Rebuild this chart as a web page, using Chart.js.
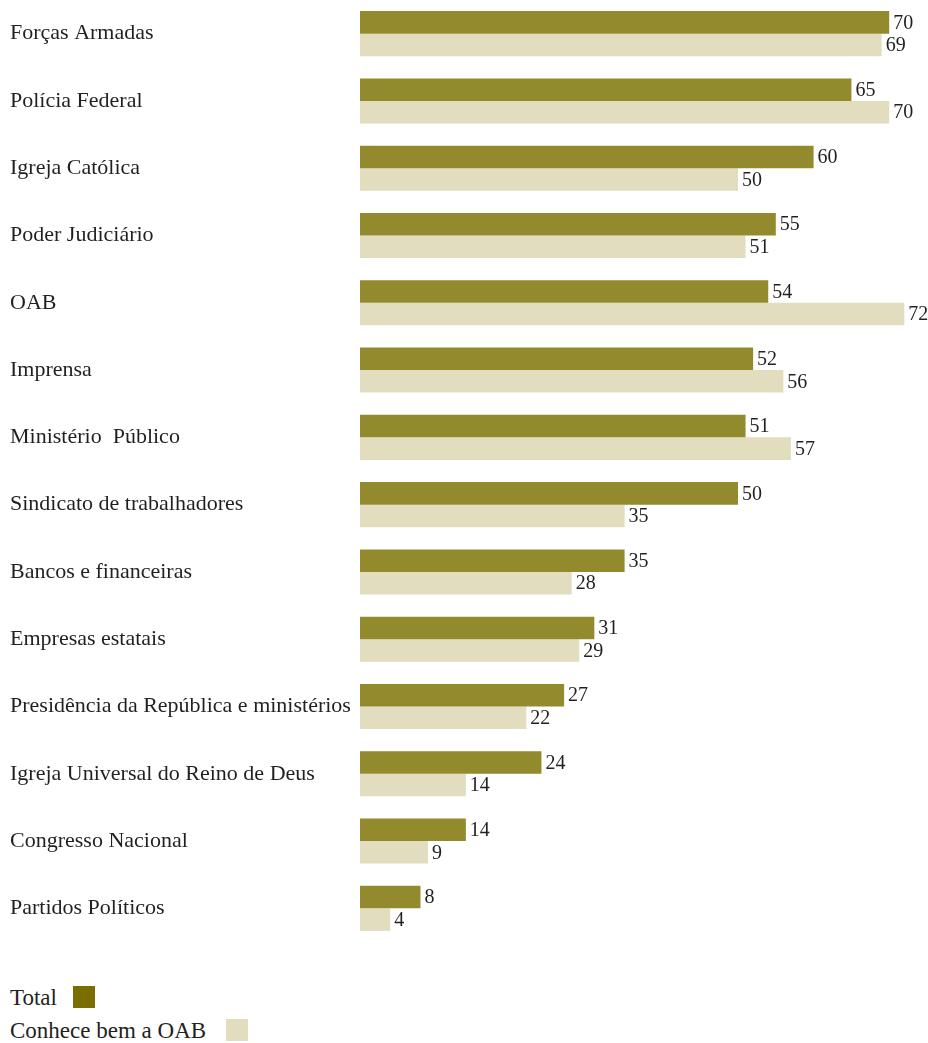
<!DOCTYPE html>
<html>
<head>
<meta charset="utf-8">
<script src="https://cdn.jsdelivr.net/npm/chart.js@4.4.1/dist/chart.umd.min.js"></script>
<style>
  html, body { margin: 0; padding: 0; background: #fff; }
  #wrap { position: relative; width: 928px; height: 1043px; }
  canvas { position: absolute; left: 0; top: 0; }
  .leg { position: absolute; left: 10px; font-family: "Liberation Serif", serif; font-size: 23px; color: #231f20; line-height: 1; }
  .sw { position: absolute; width: 22px; height: 22px; }
</style>
</head>
<body>
<div id="wrap">
  <canvas id="c" width="928" height="942"></canvas>
  <div class="leg" style="top:986px;">Total</div>
  <div class="sw" style="left:73px; top:986px; background:#7a6e00;"></div>
  <div class="leg" style="top:1019px;">Conhece bem a OAB</div>
  <div class="sw" style="left:226px; top:1019px; background:#e1ddbe;"></div>
</div>
<script>
const categories = [
  "Forças Armadas", "Polícia Federal", "Igreja Católica", "Poder Judiciário", "OAB",
  "Imprensa", "Ministério  Público", "Sindicato de trabalhadores", "Bancos e financeiras",
  "Empresas estatais", "Presidência da República e ministérios",
  "Igreja Universal do Reino de Deus", "Congresso Nacional", "Partidos Políticos"
];
const totalValues = [70, 65, 60, 55, 54, 52, 51, 50, 35, 31, 27, 24, 14, 8];
const conheceValues = [69, 70, 50, 51, 72, 56, 57, 35, 28, 29, 22, 14, 9, 4];
const seriesNames = ["Total", "Conhece bem a OAB"];

const FONT = '"Liberation Serif", serif';
const TEXT = '#231f20';

const valueLabels = {
  id: 'valueLabels',
  afterDatasetsDraw(chart) {
    const ctx = chart.ctx;
    ctx.save();
    ctx.font = '20px ' + FONT;
    ctx.fillStyle = TEXT;
    ctx.textAlign = 'left';
    ctx.textBaseline = 'middle';
    chart.data.datasets.forEach((ds, di) => {
      chart.getDatasetMeta(di).data.forEach((bar, i) => {
        ctx.fillText(String(ds.data[i]), bar.x + 4, bar.y + 1);
      });
    });
    ctx.restore();
  }
};

new Chart(document.getElementById('c'), {
  type: 'bar',
  data: {
    labels: categories,
    datasets: [
      { label: seriesNames[0], data: totalValues, backgroundColor: '#938a2e', borderWidth: 0 },
      { label: seriesNames[1], data: conheceValues, backgroundColor: '#e1ddbe', borderWidth: 0 }
    ]
  },
  options: {
    indexAxis: 'y',
    responsive: false,
    devicePixelRatio: 1,
    animation: false,
    layout: { padding: { left: 10, right: 1, top: 0, bottom: 0 } },
    datasets: { bar: { barPercentage: 1, categoryPercentage: 0.67 } },
    plugins: { legend: { display: false }, tooltip: { enabled: false } },
    scales: {
      x: { display: false, min: 0, max: 75 },
      y: {
        grid: { display: false },
        border: { display: false },
        ticks: { crossAlign: 'far', color: TEXT, font: { family: FONT, size: 22 }, padding: 0 },
        afterFit(scale) { scale.width = 350; scale.paddingTop = 0; scale.paddingBottom = 0; }
      }
    }
  },
  plugins: [valueLabels]
});
</script>
</body>
</html>
